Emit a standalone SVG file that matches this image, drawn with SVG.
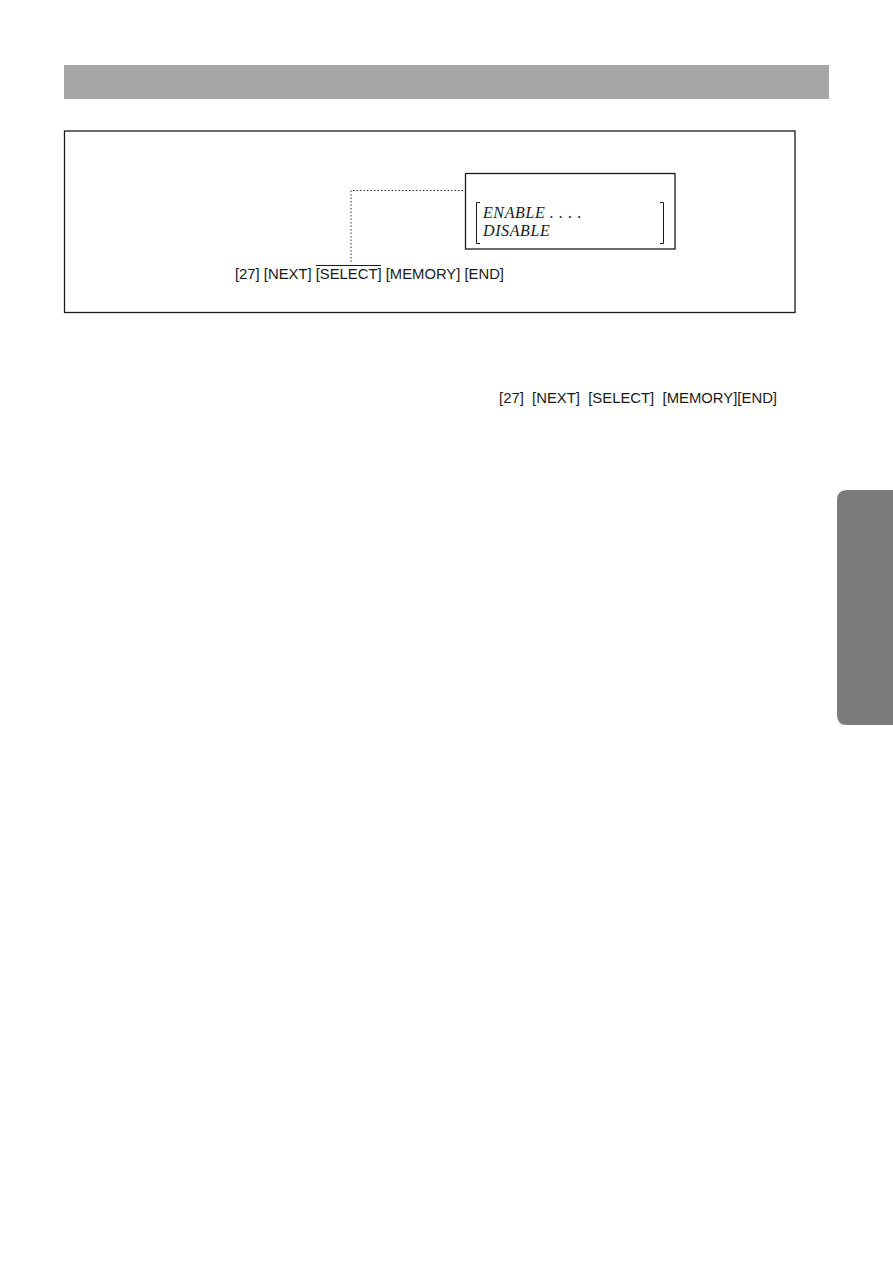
<svg xmlns="http://www.w3.org/2000/svg" width="893" height="1263" viewBox="0 0 893 1263">
<style>
.key{font-family:"Liberation Sans",Arial,sans-serif;font-size:14.5px;fill:#1a1a1a}
.opt{font-family:"Liberation Serif","Times New Roman",serif;font-style:italic;font-size:16px;fill:#1a1a1a;letter-spacing:0.6px}
.box{fill:none;stroke:#1a1a1a;stroke-width:1.3}
.dot{fill:none;stroke:#333;stroke-width:1;stroke-dasharray:1.5 2}
.brk{fill:none;stroke:#1a1a1a;stroke-width:1}
</style>
<rect width="893" height="1263" fill="#fff"/>
<g id="header"><rect x="64" y="65" width="765" height="34" fill="#a6a5a7"/></g>
<g id="frame"><rect class="box" x="64.5" y="131" width="730.5" height="181.5"/></g>
<g id="connectors"><path class="dot" d="M351 262 V190.5 H464"/></g>
<g id="option-box">
<rect class="box" x="465.5" y="173.5" width="209.5" height="75.5"/>
<path class="brk" d="M480 202.5 H476.5 V243.5 H480"/>
<path class="brk" d="M660 202.5 H663.5 V243.5 H660"/>
<text class="opt" x="483" y="218">ENABLE . . . .</text>
<text class="opt" x="483" y="236">DISABLE</text>
</g>
<g id="key-seq">
<text class="key" x="235" y="279" textLength="269" lengthAdjust="spacingAndGlyphs">[27] [NEXT] [SELECT] [MEMORY] [END]</text>
<line x1="316" y1="265.5" x2="381" y2="265.5" stroke="#1a1a1a" stroke-width="1"/>
</g>
<g id="key-seq-2"><text class="key" x="499" y="403" xml:space="preserve" style="white-space:pre" textLength="278" lengthAdjust="spacingAndGlyphs">[27]  [NEXT]  [SELECT]  [MEMORY][END]</text></g>
<g id="tab"><path d="M893 490 H847 Q837 490 837 500 V715 Q837 725 847 725 H893 Z" fill="#7b7b7b"/></g>
</svg>
